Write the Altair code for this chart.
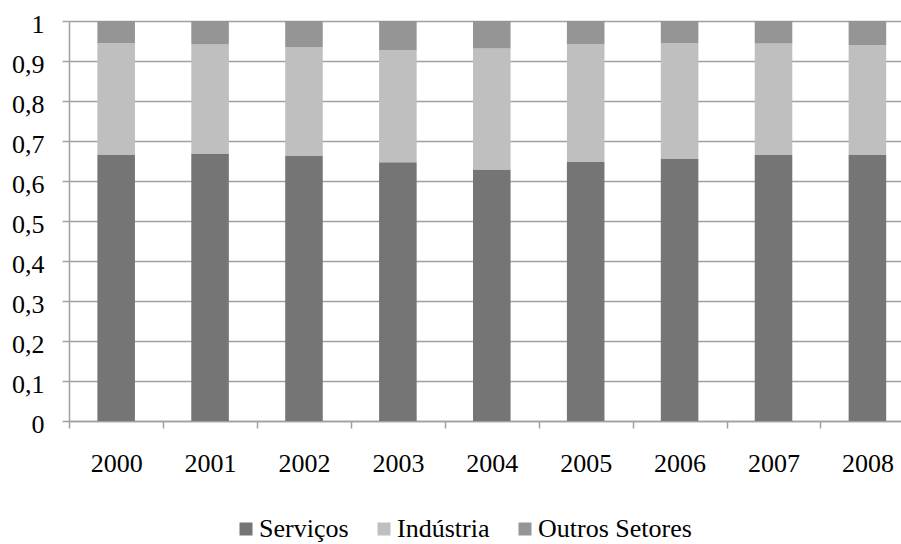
import altair as alt
import pandas as pd

# Participação de cada setor por ano (frações que somam 1)
years = ["2000", "2001", "2002", "2003", "2004", "2005", "2006", "2007", "2008"]
servicos = [0.666, 0.669, 0.6625, 0.647, 0.629, 0.6475, 0.656, 0.665, 0.666]
industria = [0.279, 0.272, 0.2725, 0.280, 0.302, 0.295, 0.289, 0.279, 0.274]
outros = [0.055, 0.059, 0.065, 0.073, 0.069, 0.0575, 0.055, 0.056, 0.060]

sectors = ["Serviços", "Indústria", "Outros Setores"]
colors = ["#757575", "#BFBFBF", "#959595"]
y_ticks = [0, 0.1, 0.2, 0.3, 0.4, 0.5, 0.6, 0.7, 0.8, 0.9, 1]

rows = []
for i, ano in enumerate(years):
    for k, (nome, vals) in enumerate(zip(sectors, [servicos, industria, outros])):
        rows.append({"ano": ano, "setor": nome, "valor": vals[i], "ordem": k})
df = pd.DataFrame(rows)

FONT = "Liberation Serif"
GRID = "#A0A0A0"
HALF_STEP = 46.95  # metade da largura de cada categoria, em pixels

chart = alt.Chart(df).mark_bar(clip=True).encode(
    x=alt.X(
        "ano:N",
        sort=years,
        title=None,
        scale=alt.Scale(paddingInner=0.6, paddingOuter=0.23, align=0.657),
        axis=alt.Axis(
            labelAngle=0,
            grid=False,
            domainColor=GRID,
            domainWidth=1.5,
            tickColor=GRID,
            tickWidth=1.5,
            tickSize=7,
            tickOffset=-HALF_STEP,
            labelOffset=HALF_STEP,
            labelPadding=22,
            labelFont=FONT,
            labelFontSize=26,
            labelColor="black",
        ),
    ),
    y=alt.Y(
        "valor:Q",
        stack="zero",
        title=None,
        scale=alt.Scale(domain=[0, 1], nice=False),
        axis=alt.Axis(
            values=y_ticks,
            labelExpr="replace(format(datum.value, '.1~f'), '.', ',')",
            grid=True,
            gridColor=GRID,
            gridWidth=1.5,
            domainColor=GRID,
            domainWidth=1.5,
            tickColor=GRID,
            tickWidth=1.5,
            tickSize=7,
            labelPadding=18,
            labelOffset=3,
            labelFont=FONT,
            labelFontSize=26,
            labelColor="black",
        ),
    ),
    color=alt.Color(
        "setor:N",
        sort=sectors,
        title=None,
        scale=alt.Scale(domain=sectors, range=colors),
        legend=alt.Legend(
            orient="none",
            legendX=164,
            legendY=495,
            direction="horizontal",
            symbolType="square",
            symbolSize=169,
            symbolStrokeWidth=0,
            labelFont=FONT,
            labelFontSize=26,
            labelColor="black",
            labelOffset=0,
            labelLimit=400,
            columnPadding=22,
            padding=0,
        ),
    ),
    order=alt.Order("ordem:Q", sort="ascending"),
).properties(
    width=832,
    height=400,
    autosize=alt.AutoSizeParams(type="none"),
    padding={"left": 69, "top": 21, "right": 0, "bottom": 123},
).configure_view(stroke=None)

chart.save("out.html", embed_options={"renderer": "svg", "actions": False})
